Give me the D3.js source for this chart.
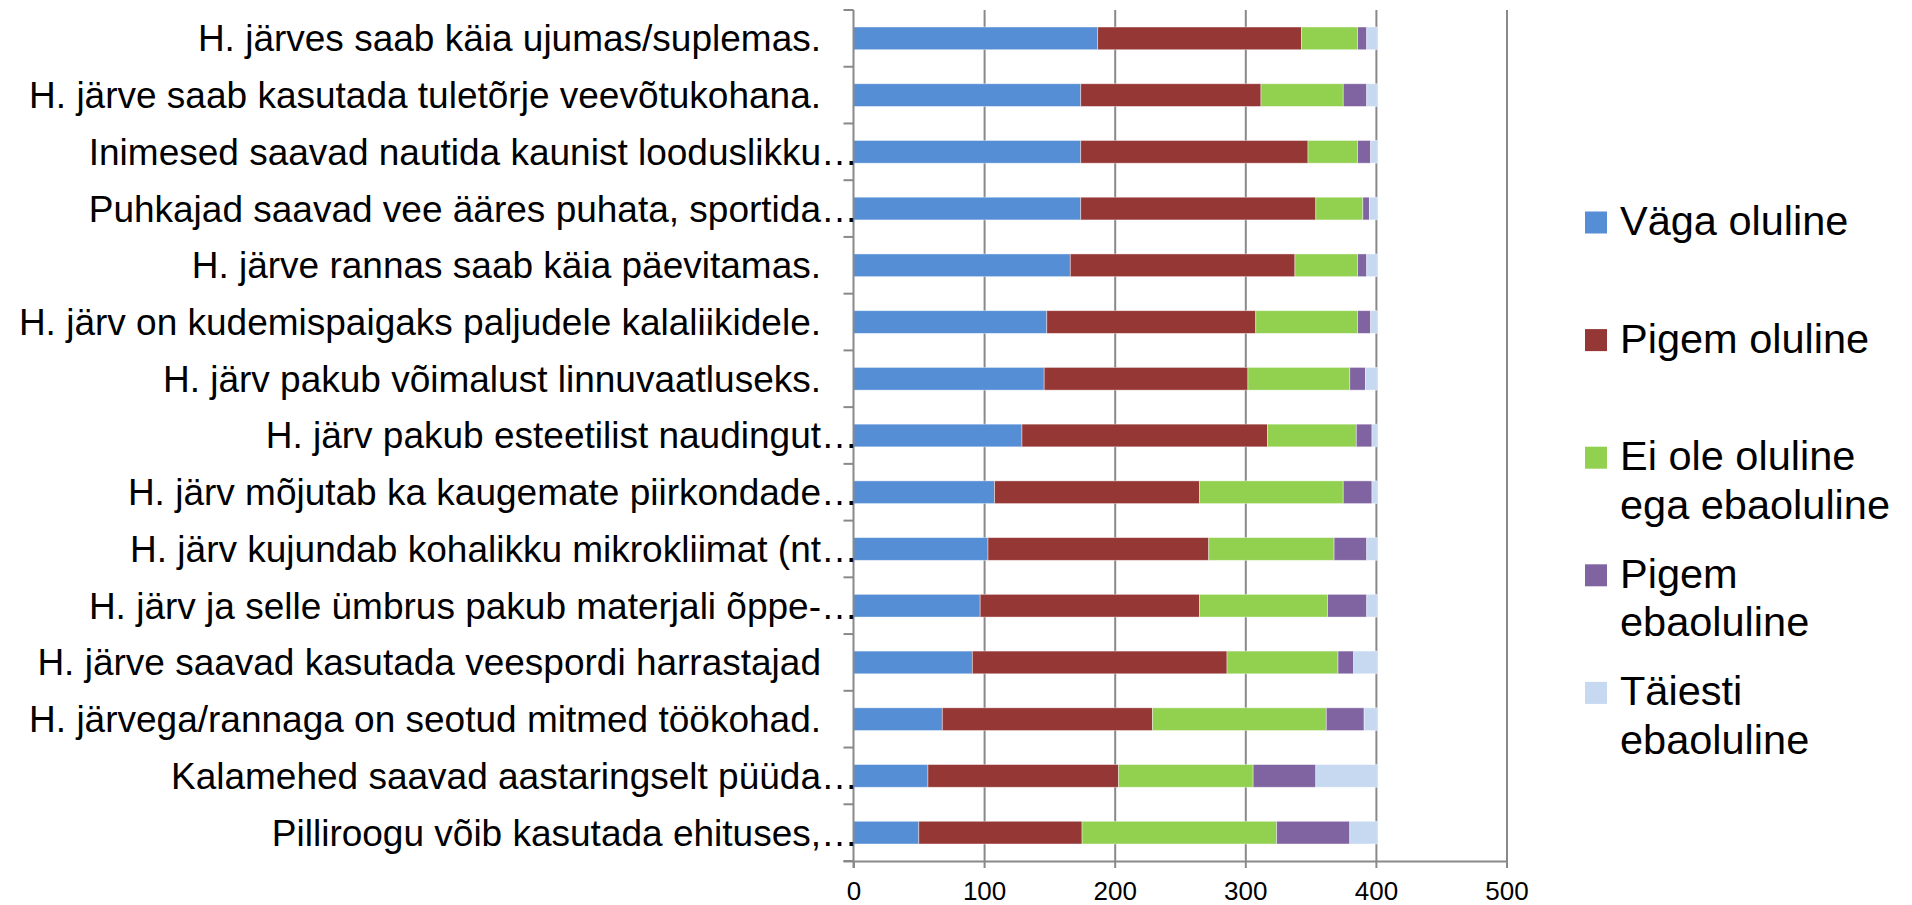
<!DOCTYPE html>
<html>
<head>
<meta charset="utf-8">
<script src="https://cdn.jsdelivr.net/npm/d3@7"></script>
<style>
  body { margin: 0; background: #ffffff; }
  text { font-family: "Liberation Sans", Arial, sans-serif; fill: #000000; }
</style>
</head>
<body>
<div id="chart"></div>
<script>
// Categories (top to bottom)
var categories = [
  "H. järves saab käia ujumas/suplemas.",
  "H. järve saab kasutada tuletõrje veevõtukohana.",
  "Inimesed saavad nautida kaunist looduslikku…",
  "Puhkajad saavad vee ääres puhata, sportida…",
  "H. järve rannas saab käia päevitamas.",
  "H. järv on kudemispaigaks paljudele kalaliikidele.",
  "H. järv pakub võimalust linnuvaatluseks.",
  "H. järv pakub esteetilist naudingut…",
  "H. järv mõjutab ka kaugemate piirkondade…",
  "H. järv kujundab kohalikku mikrokliimat (nt…",
  "H. järv ja selle ümbrus pakub materjali õppe-…",
  "H. järve saavad kasutada veespordi harrastajad",
  "H. järvega/rannaga on seotud mitmed töökohad.",
  "Kalamehed saavad aastaringselt püüda…",
  "Pilliroogu võib kasutada ehituses,…"
];

// Series values (answer counts)
var vagaOluline = [187, 174, 174, 174, 166, 148, 146, 129, 108, 103, 97, 91, 68, 57, 50];
var pigemOluline = [156, 138, 174, 180, 172, 160, 156, 188, 157, 169, 168, 195, 161, 146, 125];
var eiOleOluline = [43, 63, 38, 36, 48, 78, 78, 68, 110, 96, 98, 85, 133, 103, 149];
var pigemEbaoluline = [7, 18, 10, 5, 7, 10, 12, 12, 22, 25, 30, 12, 29, 48, 56];
var taiestiEbaoluline = [8, 8, 5, 6, 8, 5, 9, 4, 4, 8, 8, 18, 10, 47, 21];

var seriesNames = [
  ["Väga oluline"],
  ["Pigem oluline"],
  ["Ei ole oluline", "ega ebaoluline"],
  ["Pigem", "ebaoluline"],
  ["Täiesti", "ebaoluline"]
];
var seriesColors = ["#558ed5", "#953735", "#92d050", "#8064a2", "#c6d9f1"];
var xTicks = [0, 100, 200, 300, 400, 500];

// Define SVG area size
var svgWidth = 1912;
var svgHeight = 905;

// plot area edges
var plot = { left: 853.5, right: 1506.5, top: 10, bottom: 861 };

var svg = d3.select("#chart")
  .append("svg")
  .attr("width", svgWidth)
  .attr("height", svgHeight);

// build rows for the stack
var rows = categories.map(function(c, i) {
  return {
    category: c,
    s0: vagaOluline[i],
    s1: pigemOluline[i],
    s2: eiOleOluline[i],
    s3: pigemEbaoluline[i],
    s4: taiestiEbaoluline[i]
  };
});
var keys = ["s0", "s1", "s2", "s3", "s4"];
var stacked = d3.stack().keys(keys)(rows);

// scales
var xScale = d3.scaleLinear()
  .domain([0, 500])
  .range([plot.left, plot.right]);

var yScale = d3.scaleBand()
  .domain(categories)
  .range([plot.top, plot.bottom])
  .paddingInner(0.6)
  .paddingOuter(0.3);

var colorScale = d3.scaleOrdinal()
  .domain(keys)
  .range(seriesColors);

// vertical gridlines
var gridAxis = d3.axisBottom(xScale)
  .tickValues(xTicks.slice(1))
  .tickSize(-(plot.bottom - plot.top))
  .tickFormat("");

svg.append("g")
  .attr("transform", `translate(0, ${plot.bottom})`)
  .call(gridAxis)
  .call(g => g.select(".domain").remove())
  .selectAll("line")
  .attr("stroke", "#898989")
  .attr("stroke-width", 2);

// stacked bars
svg.append("g")
  .selectAll("g")
  .data(stacked)
  .enter()
  .append("g")
  .attr("fill", d => colorScale(d.key))
  .selectAll("rect")
  .data(d => d)
  .enter()
  .append("rect")
  .attr("x", d => xScale(d[0]))
  .attr("y", d => yScale(d.data.category))
  .attr("width", d => xScale(d[1]) - xScale(d[0]))
  .attr("height", yScale.bandwidth())
  .attr("stroke", "#ffffff")
  .attr("stroke-opacity", 0.5)
  .attr("stroke-width", 0.8);

// x axis
var bottomAxis = d3.axisBottom(xScale)
  .tickValues(xTicks)
  .tickSize(7)
  .tickSizeOuter(0)
  .tickPadding(14);

var xAxis = svg.append("g")
  .attr("transform", `translate(0, ${plot.bottom})`)
  .call(bottomAxis);

xAxis.select(".domain")
  .attr("d", `M${plot.left - 10},0.5H${plot.right}`)
  .attr("stroke", "#898989")
  .attr("stroke-width", 2);

xAxis.selectAll(".tick line")
  .attr("stroke", "#898989")
  .attr("stroke-width", 2);

xAxis.selectAll(".tick text")
  .attr("font-family", "'Liberation Sans', Arial, sans-serif")
  .attr("font-size", 26)
  .attr("fill", "#000000");

// y axis line with ticks at category boundaries
var yAxis = svg.append("g");

yAxis.append("line")
  .attr("x1", plot.left)
  .attr("x2", plot.left)
  .attr("y1", plot.top)
  .attr("y2", plot.bottom + 7)
  .attr("stroke", "#898989")
  .attr("stroke-width", 2);

yAxis.selectAll(".ytick")
  .data(d3.range(categories.length + 1))
  .enter()
  .append("line")
  .attr("class", "ytick")
  .attr("x1", plot.left - 10)
  .attr("x2", plot.left)
  .attr("y1", i => plot.top + i * yScale.step())
  .attr("y2", i => plot.top + i * yScale.step())
  .attr("stroke", "#898989")
  .attr("stroke-width", 2);

// category labels (ellipsis hangs past the text end, like in the original)
var labelEnd = 821;
var labels = svg.append("g")
  .selectAll("g")
  .data(categories)
  .enter()
  .append("g")
  .attr("transform", d => `translate(0, ${yScale(d) + yScale.bandwidth() / 2})`);

labels.append("text")
  .attr("x", labelEnd)
  .attr("dy", "0.35em")
  .attr("text-anchor", "end")
  .attr("font-size", 37)
  .text(d => d.replace("…", ""));

labels.filter(d => d.endsWith("…"))
  .append("text")
  .attr("x", labelEnd)
  .attr("dy", "0.35em")
  .attr("text-anchor", "start")
  .attr("font-size", 37)
  .text("…");

// legend
var legend = svg.append("g")
  .attr("transform", "translate(1585, 222.5)");

var legendItems = legend.selectAll("g")
  .data(seriesNames)
  .enter()
  .append("g")
  .attr("transform", (d, i) => `translate(0, ${i * 117.6})`);

legendItems.append("rect")
  .attr("x", 0)
  .attr("y", -11)
  .attr("width", 22)
  .attr("height", 22)
  .attr("fill", (d, i) => seriesColors[i]);

legendItems.append("text")
  .attr("x", 35)
  .attr("y", 12.5)
  .attr("font-size", 41.5)
  .selectAll("tspan")
  .data(d => d)
  .enter()
  .append("tspan")
  .attr("x", 35)
  .attr("dy", (d, i) => i === 0 ? 0 : 48.5)
  .text(d => d);
</script>
</body>
</html>
